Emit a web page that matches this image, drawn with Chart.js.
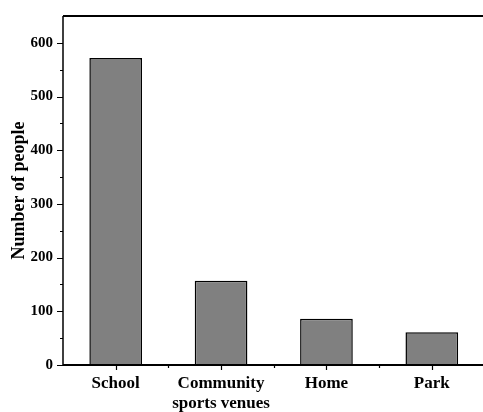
<!DOCTYPE html>
<html>
<head>
<meta charset="utf-8">
<script src="https://cdn.jsdelivr.net/npm/chart.js@4/dist/chart.umd.min.js"></script>
<style>
  html, body { margin: 0; padding: 0; background: #fff; overflow: hidden; }
  #wrap { width: 483px; height: 412px; overflow: hidden; }
</style>
</head>
<body>
<div id="wrap"><canvas id="chart" width="490" height="412"></canvas></div>
<script>
// --- Data ---
const CATEGORIES = ['School', ['Community', 'sports venues'], 'Home', 'Park'];
const PEOPLE = [572, 157, 86, 61];
const Y_MAX = 650;
const Y_STEP = 50;

const FONT = "'Liberation Serif', 'Times New Roman', serif";

// --- Frame + major/minor ticks (the reference draws ticks outward) ---
const frameTicks = {
  id: 'frameTicks',
  afterDraw(chart) {
    const { ctx, chartArea: a, scales: { x, y } } = chart;
    ctx.save();
    ctx.strokeStyle = '#000';

    // frame
    ctx.lineWidth = 2;
    ctx.beginPath();
    ctx.moveTo(a.left, a.top); ctx.lineTo(a.right, a.top);
    ctx.moveTo(a.left, a.bottom); ctx.lineTo(a.right, a.bottom);
    ctx.stroke();
    ctx.lineWidth = 1.5;
    ctx.beginPath();
    ctx.moveTo(a.left, a.top); ctx.lineTo(a.left, a.bottom);
    ctx.moveTo(a.right, a.top); ctx.lineTo(a.right, a.bottom);
    ctx.stroke();

    // y ticks
    ctx.lineWidth = 1.2;
    ctx.beginPath();
    for (let v = 0; v <= 600; v += Y_STEP) {
      const py = Math.round(y.getPixelForValue(v)) + 0.5;
      const len = v % 100 === 0 ? 6 : 3;
      ctx.moveTo(a.left, py); ctx.lineTo(a.left - len, py);
    }
    // x ticks: major at categories, minor between
    for (let i = 0; i < CATEGORIES.length; i++) {
      const px = Math.round(x.getPixelForValue(i)) + 0.5;
      ctx.moveTo(px, a.bottom); ctx.lineTo(px, a.bottom + 5);
      if (i > 0) {
        const mx = Math.round((x.getPixelForValue(i) + x.getPixelForValue(i - 1)) / 2) + 0.5;
        ctx.moveTo(mx, a.bottom); ctx.lineTo(mx, a.bottom + 3);
      }
    }
    ctx.stroke();
    ctx.restore();
  }
};

new Chart(document.getElementById('chart'), {
  type: 'bar',
  data: {
    labels: CATEGORIES,
    datasets: [{
      label: 'Number of people',
      data: PEOPLE,
      backgroundColor: '#808080',
      borderColor: '#000',
      borderWidth: 1.5,
      barPercentage: 0.5,
      categoryPercentage: 1.0,
    }],
  },
  options: {
    responsive: false,
    animation: false,
    layout: { padding: { top: 16, right: 5.5, left: 0, bottom: 0 } },
    plugins: {
      legend: { display: false },
      tooltip: { enabled: false },
    },
    scales: {
      x: {
        border: { display: false },
        grid: { display: false, drawTicks: false },
        ticks: {
          color: '#000',
          padding: 8,
          maxRotation: 0,
          autoSkip: false,
          font: { family: FONT, size: 17, weight: 'bold' },
        },
        afterFit: (s) => { s.height = 47; s.paddingLeft = 0; s.paddingRight = 0; },
      },
      y: {
        min: 0,
        max: Y_MAX,
        border: { display: false },
        grid: { display: false, drawTicks: false },
        ticks: {
          stepSize: Y_STEP,
          autoSkip: false,
          color: '#000',
          padding: 10,
          font: { family: FONT, size: 15, weight: 'bold' },
          callback: (v) => (v % 100 === 0 ? v : ''),
        },
        title: {
          display: true,
          text: 'Number of people',
          color: '#000',
          padding: { top: 9, bottom: 0 },
          font: { family: FONT, size: 18, weight: 'bold' },
        },
        afterFit: (s) => { s.width = 63; s.paddingTop = 0; s.paddingBottom = 0; },
      },
    },
  },
  plugins: [frameTicks],
});
</script>
</body>
</html>
